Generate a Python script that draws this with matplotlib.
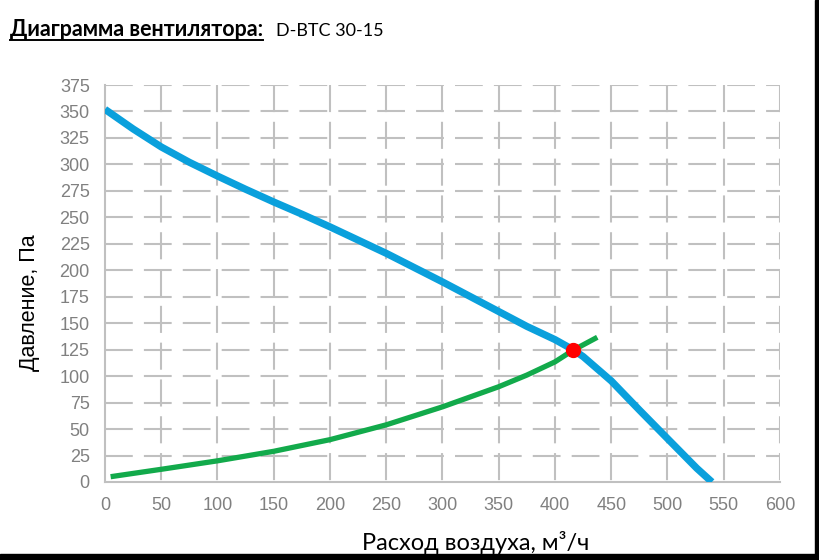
import numpy as np
import matplotlib.pyplot as plt
from matplotlib.patches import Rectangle

plt.rcParams['lines.scale_dashes'] = False

# Characteristic of the fan
fan_q = [0, 25, 50, 75, 100, 125, 150, 175, 200, 250, 300, 325, 350, 375,
         400, 416, 425, 450, 475, 500, 526, 539.5]
fan_p = [352, 333.5, 316.5, 302, 289, 276.5, 264.5, 253, 241, 216, 189, 175,
         161, 147, 134.5, 125, 118.5, 95.5, 68, 41, 13, 0]

# Network curve
net_q = [5, 50, 100, 150, 200, 250, 300, 325, 350, 375, 400, 416, 437.6]
net_p = [5, 12, 20, 29, 40, 54, 71, 80.5, 90, 101, 113.5, 124.4, 136.7]

# working point
work_q = [416]
work_p = [124.5]

x_ticks = np.arange(0, 601, 50)
y_ticks = np.arange(0, 376, 25)

title_bold = 'Диаграмма вентилятора:'
title_model = 'D-BTC 30-15'
x_label = 'Расход воздуха, м³/ч'
y_label = 'Давление, Па'

grid_col = '#c0c0c0'
tick_col = '#808080'

fig = plt.figure(figsize=(8.2, 5.6), dpi=100)
ax = fig.add_axes([105/820, 1-482/560, 675/820, 397/560])

ax.set_xlim(0, 600)
ax.set_ylim(0, 375)
ax.set_xticks(x_ticks)
ax.set_yticks(y_ticks)
ax.tick_params(length=0, labelsize=13, labelcolor=tick_col, pad=11)
for lab in ax.get_xticklabels() + ax.get_yticklabels():
    lab.set_fontfamily('Liberation Sans')

# gridlines, dashed, horizontal start from left, vertical start from top
ax.hlines(y_ticks[1:], 0, 600, colors=grid_col, lw=1.5,
          linestyles=[(0, (20, 8))], zorder=1)
ax.vlines(x_ticks[1:], 375, 0, colors=grid_col, lw=1.5,
          linestyles=[(0, (19.5, 7))], zorder=1)

for s in ['top', 'right']:
    ax.spines[s].set_visible(False)
for s in ['left', 'bottom']:
    ax.spines[s].set_color(grid_col)
    ax.spines[s].set_linewidth(1.5)

ax.plot(fan_q, fan_p, color='#0aa0dc', lw=5.2, solid_capstyle='butt',
        solid_joinstyle='round', zorder=3)
ax.plot(net_q, net_p, color='#12aa4b', lw=3.8, solid_capstyle='butt',
        solid_joinstyle='round', zorder=4)
ax.plot(work_q, work_p, 'o', color='#ff0000', ms=10, mec='#ff0000', zorder=5)

fig.text(30/820, 1-303/560, y_label, rotation=90, ha='center', va='center',
         fontsize=15.5, family='Liberation Sans')
fig.text(476/820, 1-543/560, x_label, ha='center', va='center',
         fontsize=17, family=['Lato', 'DejaVu Sans'])

# title with underline
t1 = fig.text(10/820, 1-36/560, title_bold, fontsize=15.5, fontweight='bold',
              family=['Lato', 'DejaVu Sans'], va='baseline')
fig.text(276/820, 1-36/560, title_model, fontsize=13,
         family=['Lato', 'DejaVu Sans'], va='baseline')
fig.canvas.draw()
bb = t1.get_window_extent()
fig.add_artist(plt.Line2D([bb.x0/820, bb.x1/820], [1-40/560, 1-40/560],
                          color='black', lw=1.4, transform=fig.transFigure))

# black frame edges at right and bottom
fig.add_artist(Rectangle((815/820, 0), 5/820, 1, color='black',
                         transform=fig.transFigure))
fig.add_artist(Rectangle((0, 0), 1, 6/560, color='black',
                         transform=fig.transFigure))

fig.savefig('out.png', dpi=100)
